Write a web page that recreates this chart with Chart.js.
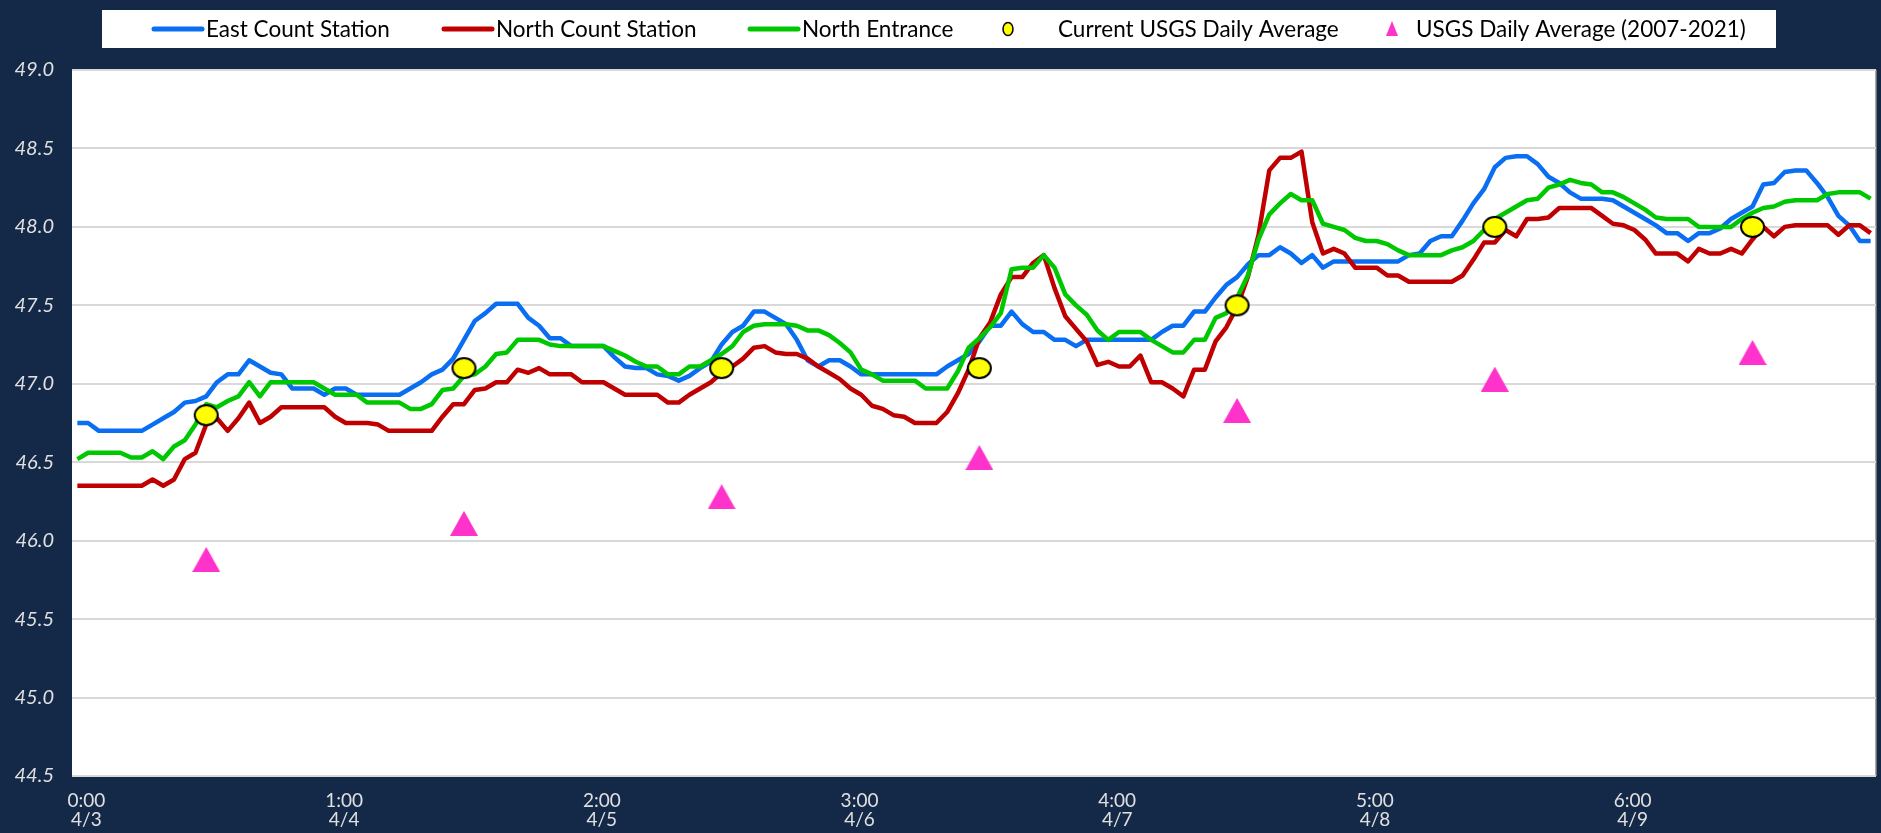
<!DOCTYPE html>
<html>
<head>
<meta charset="utf-8">
<script src="https://cdn.jsdelivr.net/npm/chart.js@4.4.1/dist/chart.umd.min.js"></script>
<style>
  html, body { margin: 0; padding: 0; background: #142847; }
  #wrap { width: 1881px; height: 833px; }
</style>
</head>
<body>
<div id="wrap"><canvas id="chart" width="1881" height="833"></canvas></div>
<script>
// hourly water temperature readings, 4/3 00:00 .. 4/9 23:00 (index = hour)
const eastCount = [
  46.75,46.75,46.70,46.70,46.70,46.70,46.70,46.74,46.78,46.82,46.88,46.89,46.92,47.01,47.06,47.06,47.15,47.11,47.07,47.06,46.97,46.97,46.97,46.93,
  46.97,46.97,46.93,46.93,46.93,46.93,46.93,46.97,47.01,47.06,47.09,47.16,47.28,47.40,47.45,47.51,47.51,47.51,47.42,47.37,47.29,47.29,47.24,47.24,
  47.24,47.24,47.17,47.11,47.10,47.10,47.06,47.05,47.02,47.05,47.10,47.14,47.25,47.33,47.37,47.46,47.46,47.42,47.38,47.28,47.15,47.11,47.15,47.15,
  47.11,47.06,47.06,47.06,47.06,47.06,47.06,47.06,47.06,47.11,47.15,47.19,47.27,47.37,47.37,47.46,47.38,47.33,47.33,47.28,47.28,47.24,47.28,47.28,
  47.28,47.28,47.28,47.28,47.28,47.33,47.37,47.37,47.46,47.46,47.55,47.63,47.68,47.76,47.82,47.82,47.87,47.83,47.77,47.82,47.74,47.78,47.78,47.78,
  47.78,47.78,47.78,47.78,47.82,47.83,47.91,47.94,47.94,48.04,48.15,48.24,48.38,48.44,48.45,48.45,48.40,48.32,48.28,48.22,48.18,48.18,48.18,48.17,
  48.13,48.09,48.05,48.01,47.96,47.96,47.91,47.96,47.96,47.99,48.05,48.09,48.13,48.27,48.28,48.35,48.36,48.36,48.28,48.19,48.07,48.01,47.91,47.91
];
const northCount = [
  46.35,46.35,46.35,46.35,46.35,46.35,46.35,46.39,46.35,46.39,46.52,46.56,46.74,46.78,46.70,46.78,46.88,46.75,46.79,46.85,46.85,46.85,46.85,46.85,
  46.79,46.75,46.75,46.75,46.74,46.70,46.70,46.70,46.70,46.70,46.79,46.87,46.87,46.96,46.97,47.01,47.01,47.09,47.07,47.10,47.06,47.06,47.06,47.01,
  47.01,47.01,46.97,46.93,46.93,46.93,46.93,46.88,46.88,46.93,46.97,47.01,47.07,47.11,47.16,47.23,47.24,47.20,47.19,47.19,47.16,47.11,47.07,47.03,
  46.97,46.93,46.86,46.84,46.80,46.79,46.75,46.75,46.75,46.82,46.94,47.09,47.29,47.39,47.57,47.68,47.68,47.77,47.82,47.61,47.43,47.35,47.27,47.12,
  47.14,47.11,47.11,47.18,47.01,47.01,46.97,46.92,47.09,47.09,47.27,47.36,47.49,47.68,47.95,48.36,48.44,48.44,48.48,48.03,47.83,47.86,47.83,47.74,
  47.74,47.74,47.69,47.69,47.65,47.65,47.65,47.65,47.65,47.69,47.79,47.90,47.90,47.98,47.94,48.05,48.05,48.06,48.12,48.12,48.12,48.12,48.07,48.02,
  48.01,47.98,47.92,47.83,47.83,47.83,47.78,47.86,47.83,47.83,47.86,47.83,47.92,48.00,47.94,48.00,48.01,48.01,48.01,48.01,47.95,48.01,48.01,47.96
];
const northEntrance = [
  46.52,46.56,46.56,46.56,46.56,46.53,46.53,46.57,46.52,46.60,46.64,46.74,46.87,46.85,46.89,46.92,47.01,46.92,47.01,47.01,47.01,47.01,47.01,46.97,
  46.93,46.93,46.93,46.88,46.88,46.88,46.88,46.84,46.84,46.87,46.96,46.97,47.05,47.06,47.11,47.19,47.20,47.28,47.28,47.28,47.25,47.24,47.24,47.24,
  47.24,47.24,47.21,47.18,47.14,47.11,47.11,47.06,47.06,47.11,47.11,47.15,47.19,47.24,47.33,47.37,47.38,47.38,47.38,47.37,47.34,47.34,47.31,47.26,
  47.20,47.09,47.06,47.02,47.02,47.02,47.02,46.97,46.97,46.97,47.08,47.23,47.29,47.36,47.45,47.73,47.74,47.74,47.82,47.74,47.57,47.50,47.44,47.34,
  47.28,47.33,47.33,47.33,47.28,47.24,47.20,47.20,47.28,47.28,47.42,47.45,47.55,47.69,47.92,48.08,48.15,48.21,48.17,48.17,48.02,48.00,47.98,47.93,
  47.91,47.91,47.89,47.85,47.82,47.82,47.82,47.82,47.85,47.87,47.91,47.98,48.05,48.09,48.13,48.17,48.18,48.25,48.27,48.30,48.28,48.27,48.22,48.22,
  48.19,48.15,48.11,48.06,48.05,48.05,48.05,48.00,48.00,48.00,48.00,48.05,48.09,48.12,48.13,48.16,48.17,48.17,48.17,48.21,48.22,48.22,48.22,48.18
];

// daily averages, plotted at noon of each day
const dailyHours = [12, 36, 60, 84, 108, 132, 156];
const usgsCurrent = [46.80, 47.10, 47.10, 47.10, 47.50, 48.00, 48.00];
const usgsHistoric = [45.88, 46.11, 46.28, 46.53, 46.83, 47.03, 47.20];

const tickHours = [0, 24, 48, 72, 96, 120, 144];
const tickTimes = ['0:00', '1:00', '2:00', '3:00', '4:00', '5:00', '6:00'];
const tickDates = ['4/3', '4/4', '4/5', '4/6', '4/7', '4/8', '4/9'];

const NAVY = '#142847';
const BLUE = '#0a6ef2';
const RED = '#c00000';
const GREEN = '#00c800';
const YELLOW = '#ffff00';
const MAGENTA = '#ff33cc';

// marker images (centred on the value like the source markers)
function makeEllipse(w, h, lw) {
    const c = document.createElement('canvas');
    c.width = w; c.height = h;
    const g = c.getContext('2d');
    g.beginPath();
    g.ellipse(w / 2, h / 2, w / 2 - lw, h / 2 - lw, 0, 0, Math.PI * 2);
    g.fillStyle = YELLOW;
    g.fill();
    g.lineWidth = lw;
    g.strokeStyle = '#000';
    g.stroke();
    return c;
}
function makeTriangle(w, h) {
    const c = document.createElement('canvas');
    c.width = w; c.height = h;
    const g = c.getContext('2d');
    g.beginPath();
    g.moveTo(w / 2, 0);
    g.lineTo(w, h);
    g.lineTo(0, h);
    g.closePath();
    g.fillStyle = MAGENTA;
    g.fill();
    return c;
}
const circleMark = makeEllipse(27, 24, 2);
const triMark = makeTriangle(28, 25);

const toXY = vals => vals.map((y, i) => ({ x: i, y }));
const dailyXY = vals => vals.map((y, i) => ({ x: dailyHours[i], y }));

// white plot area + legend box drawn on the navy background
const frame = {
    id: 'frame',
    beforeDraw(chart) {
        const { ctx, chartArea: a } = chart;
        ctx.save();
        ctx.fillStyle = '#fff';
        ctx.fillRect(a.left, a.top, a.right - a.left, a.bottom - a.top);
        ctx.strokeStyle = '#8c8c8c';
        ctx.lineWidth = 1.5;
        ctx.beginPath();
        ctx.moveTo(a.right, a.top);
        ctx.lineTo(a.right, a.bottom);
        ctx.stroke();

        // legend
        ctx.fillStyle = '#fff';
        ctx.fillRect(102, 10, 1674, 38);
        const y = 29;
        ctx.font = '22.5px Lato';
        ctx.textBaseline = 'middle';
        ctx.lineCap = 'round';
        const lines = [
            [BLUE, 154, 'East Count Station'],
            [RED, 444, 'North Count Station'],
            [GREEN, 750, 'North Entrance']
        ];
        lines.forEach(([col, x, label]) => {
            ctx.strokeStyle = col;
            ctx.lineWidth = 5;
            ctx.beginPath();
            ctx.moveTo(x, y);
            ctx.lineTo(x + 48, y);
            ctx.stroke();
            ctx.fillStyle = '#000';
            ctx.fillText(label, x + 52, y + 1);
        });
        ctx.beginPath();
        ctx.ellipse(1008, y, 5, 6.5, 0, 0, Math.PI * 2);
        ctx.fillStyle = YELLOW;
        ctx.fill();
        ctx.lineWidth = 1.5;
        ctx.strokeStyle = '#000';
        ctx.stroke();
        ctx.fillStyle = '#000';
        ctx.fillText('Current USGS Daily Average', 1058, y + 1);

        ctx.beginPath();
        ctx.moveTo(1392, y - 8);
        ctx.lineTo(1398, y + 7);
        ctx.lineTo(1386, y + 7);
        ctx.closePath();
        ctx.fillStyle = MAGENTA;
        ctx.fill();
        ctx.fillStyle = '#000';
        ctx.fillText('USGS Daily Average (2007-2021)', 1416, y + 1);
        ctx.restore();
    }
};

const lineDs = (label, vals, color, order) => ({
    type: 'line',
    label,
    data: toXY(vals),
    borderColor: color,
    backgroundColor: color,
    borderWidth: 4.5,
    pointRadius: 0,
    tension: 0,
    borderJoinStyle: 'round',
    order
});

new Chart(document.getElementById('chart'), {
    type: 'scatter',
    data: {
        datasets: [
            {
                label: 'Current USGS Daily Average',
                data: dailyXY(usgsCurrent),
                pointStyle: circleMark,
                showLine: false,
                order: 0
            },
            {
                label: 'USGS Daily Average (2007-2021)',
                data: dailyXY(usgsHistoric),
                pointStyle: triMark,
                showLine: false,
                order: 0
            },
            lineDs('North Entrance', northEntrance, GREEN, 1),
            lineDs('North Count Station', northCount, RED, 2),
            lineDs('East Count Station', eastCount, BLUE, 3)
        ]
    },
    options: {
        responsive: false,
        animation: false,
        events: [],
        layout: { padding: { top: 70, right: 3, bottom: 0, left: 0 } },
        plugins: {
            legend: { display: false },
            tooltip: { enabled: false }
        },
        scales: {
            x: {
                type: 'linear',
                min: -0.5,
                max: 167.5,
                afterFit(s) { s.height = 57; },
                afterBuildTicks(s) { s.ticks = tickHours.map(v => ({ value: v })); },
                grid: { display: false, drawTicks: false },
                border: { display: false },
                ticks: {
                    autoSkip: false,
                    maxRotation: 0,
                    padding: 15,
                    labelOffset: 9,
                    color: '#e0e0e0',
                    font: { family: 'Lato', size: 19, lineHeight: 1.0 },
                    callback: (v, i) => [tickTimes[i], tickDates[i]]
                }
            },
            y: {
                min: 44.5,
                max: 49,
                afterFit(s) { s.width = 72; },
                grid: { color: '#d9d9d9', lineWidth: 2, drawTicks: false },
                border: { display: false },
                ticks: {
                    stepSize: 0.5,
                    padding: 18,
                    color: '#e0e0e0',
                    font: { family: 'Lato', size: 20, style: 'italic' },
                    callback: v => v.toFixed(1)
                }
            }
        }
    },
    plugins: [frame]
});
</script>
</body>
</html>
